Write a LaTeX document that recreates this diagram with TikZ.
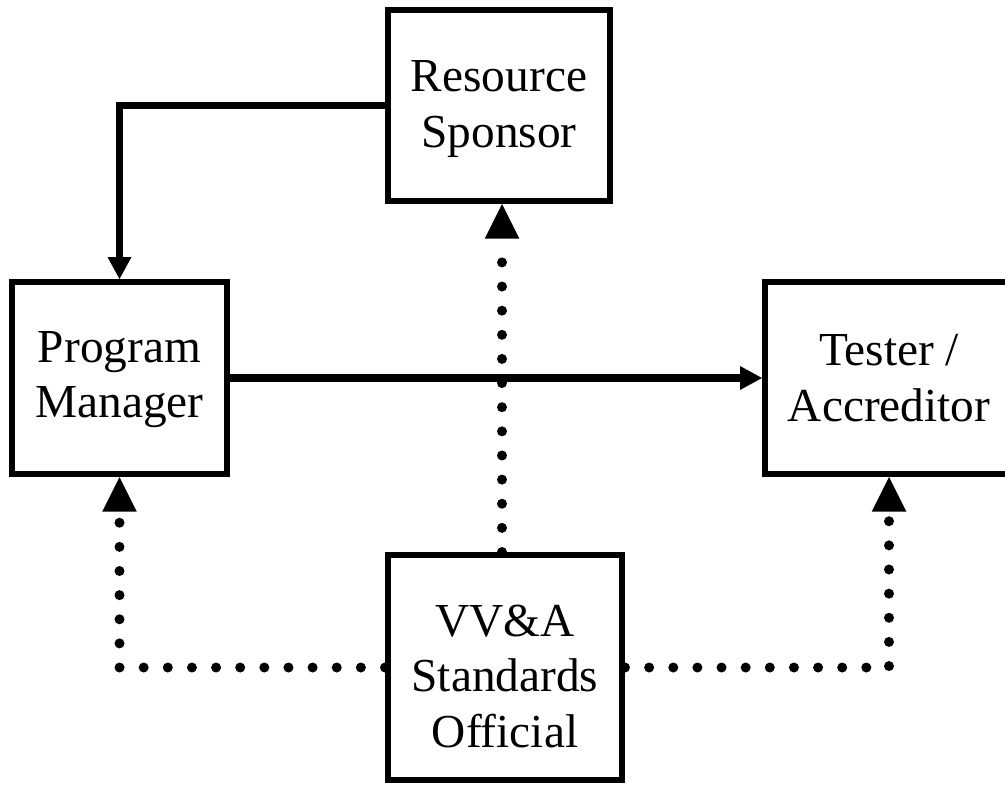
\documentclass[tikz,border=0pt]{standalone}
\usepackage{fontspec}
\setmainfont{Liberation Serif}
\usetikzlibrary{arrows.meta,calc}
\begin{document}
\begin{tikzpicture}[x=0.75pt,y=-0.75pt,
  box/.style={draw,line width=4.5pt,inner sep=0pt,align=center,
    font=\fontsize{35.5}{41.5}\selectfont},
  solidarrow/.style={line width=5.8pt,
    -{Triangle[length=16.5pt,width=18pt,line width=0pt]}},
  dotarrow/.style={line width=7.5pt,line cap=round,
    dash pattern=on 0pt off 18.1pt,
    -{Triangle[length=26pt,width=26pt,line width=0pt]}}]
\useasboundingbox (0,0) rectangle (1005,785);
\node[box,minimum width=166.5pt,minimum height=143.25pt] (rs) at (499,105.5) {\rule{0pt}{28.7pt}Resource\\Sponsor};
\node[box,minimum width=161.25pt,minimum height=144pt] (pm) at (119.5,378) {\rule{0pt}{26pt}Program\\Manager};
\node[box,minimum width=186pt,minimum height=144pt] (ta) at (889,378) {Tester /\\Accreditor};
\node[box,minimum width=175.5pt,minimum height=168.75pt] (vva) at (505,667.5) {\rule{0pt}{36.8pt}VV\&A\\Standards\\Official};
\draw[solidarrow] (rs.west) -| (pm.north);
\draw[solidarrow] (pm.east) -- (ta.west);
\coordinate (mid) at ($(vva.north)!0.5!(rs.south)$);
\draw[dotarrow] (mid |- vva.north) -- (mid |- rs.south);
\draw[dotarrow] (vva.west) -| (pm.south);
\draw[dotarrow] (vva.east) -| (ta.south);
\end{tikzpicture}
\end{document}
